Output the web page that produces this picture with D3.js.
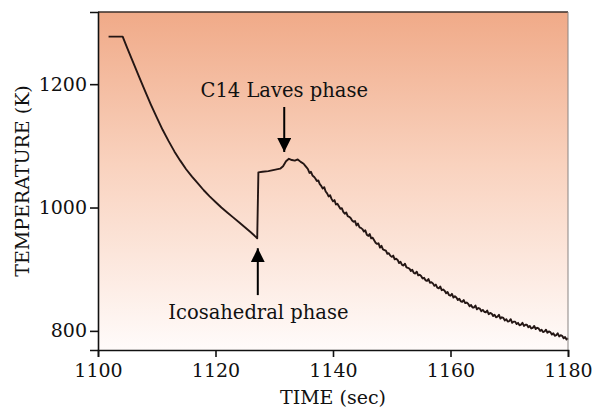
<!DOCTYPE html>
<html><head><meta charset="utf-8">
<script src="https://cdn.jsdelivr.net/npm/d3@7"></script>
<style>
html,body{margin:0;padding:0;background:#fff;}
svg text{font-family:"DejaVu Serif",serif;fill:#111;}
</style></head>
<body><svg id="chart" width="594" height="408"></svg>
<script>
// ---- data ----
const xTicks = [1100, 1120, 1140, 1160, 1180];
const yTicks = [800, 1000, 1200];
const xLabel = "TIME (sec)";
const yLabel = "TEMPERATURE (K)";

// cooling curve: time (s) / temperature (K)
const timeSmooth = [1101.8,1104.2,1105,1106,1107,1108,1109,1110,1111,1112,1113,1114,1115,1116,1117,1118,1119,1120,1121,1122,1123,1124,1125,1126,1126.9,1127.1,1127.3,1128,1129,1130,1131,1131.5,1132,1132.5,1133,1133.5,1134,1134.5];
const tempSmooth = [1277,1277,1258,1235,1212,1189,1167,1146,1126,1108,1091,1076,1062,1050,1039,1028,1018,1009,1000,992,984,976,968,960,952,950,1057,1058,1059,1061,1063,1067,1075,1079,1077,1076,1078,1074];
// noisy tail, 0.25 s steps from 1135 to 1180
const tailStart = 1135, tailStep = 0.25;
const tempTail = [
1071,1068,1065,1062, 1056,1058,1052,1050, 1047,1043,1044,1038, 1035,1031,1033,1026,
1023,1018,1020,1014, 1010,1012,1005,1006, 1002,998,999,993, 990,992,986,985,
983,979,977,978, 971,974,968,967, 965,961,963,956, 954,957,950,951,
947,943,941,942, 935,938,932,931, 930,925,926,922, 920,922,916,917,
915,910,912,907, 906,909,903,902, 901,897,899,894, 893,896,890,891,
889,885,886,882, 881,884,878,879, 877,873,875,870, 869,872,866,867,
865,861,863,858, 857,860,854,856, 854,850,852,848, 847,850,845,846,
844,840,842,838, 838,841,835,837, 836,832,834,831, 830,833,827,829,
828,824,826,822, 823,826,820,822, 821,817,819,815, 816,819,813,815,
815,811,813,809, 810,813,808,810, 810,806,808,804, 805,808,803,805,
804,800,802,798, 799,802,797,799, 798,794,796,792, 793,796,791,793,
792,788,790,786, 788];

// annotations (data coords)
const annoText = ["C14 Laves phase", "Icosahedral phase"];
const annoTextT = [1131.7, 1127.3];
const annoTextK = [1179, 819];
const arrowT = [1131.7, 1127.2];
const arrowFromK = [1163, 858];
const arrowToK = [1090, 934];

// ---- drawing ----
const svg = d3.select("#chart");
const L = 98, R = 568, T = 12, B = 350;
const x = d3.scaleLinear().domain([1100, 1180]).range([L, R]);
const y = d3.scaleLinear().domain([769, 1317]).range([B, T]);

const defs = svg.append("defs");
const g = defs.append("linearGradient").attr("id","bg").attr("x1",0).attr("y1",0).attr("x2",0).attr("y2",1);
g.append("stop").attr("offset","0%").attr("stop-color","#f0aa88");
g.append("stop").attr("offset","45%").attr("stop-color","#f9d2be");
g.append("stop").attr("offset","100%").attr("stop-color","#fffbfa");
const mk = defs.append("marker").attr("id","ah").attr("viewBox","0 0 10 10")
  .attr("refX",10).attr("refY",5).attr("markerWidth",14).attr("markerHeight",14)
  .attr("markerUnits","userSpaceOnUse").attr("orient","auto");
mk.append("path").attr("d","M0,0 L10,5 L0,10 Z").attr("fill","#000");

svg.append("rect").attr("x",L).attr("y",T).attr("width",R-L).attr("height",B-T).attr("fill","url(#bg)");

const pts = timeSmooth.map((t,i)=>[t,tempSmooth[i]]);
tempTail.forEach((v,i)=>pts.push([tailStart+i*tailStep, v]));
svg.append("path").datum(pts)
  .attr("d", d3.line().x(d=>x(d[0])).y(d=>y(d[1])))
  .attr("fill","none").attr("stroke","#241614").attr("stroke-width",1.9).attr("stroke-linejoin","round");

// frame
svg.append("line").attr("x1",L).attr("x2",R).attr("y1",T).attr("y2",T).attr("stroke","#3a2e2a").attr("stroke-width",1.5);
svg.append("line").attr("x1",R).attr("x2",R).attr("y1",T).attr("y2",B).attr("stroke","#8a8482").attr("stroke-width",1);

// axes
const ax = svg.append("g").attr("transform",`translate(0,${B})`)
  .call(d3.axisBottom(x).tickValues(xTicks).tickSize(7).tickPadding(7).tickFormat(d3.format("d")));
const ay = svg.append("g").attr("transform",`translate(${L},0)`)
  .call(d3.axisLeft(y).tickValues(yTicks).tickSize(8).tickPadding(3).tickFormat(d3.format("d")));
[ax, ay].forEach(a=>{
  a.selectAll("path").attr("stroke","#111").attr("stroke-width",1.6);
  a.selectAll("line").attr("stroke","#111").attr("stroke-width",1.6);
  a.selectAll("text").style("font-size","19px").attr("fill","#111");
});

svg.append("text").attr("x",333).attr("y",404).attr("text-anchor","middle").style("font-size","19px").text(xLabel);
svg.append("text").attr("transform",`translate(29,${181}) rotate(-90)`).attr("text-anchor","middle").style("font-size","19px").text(yLabel);

annoText.forEach((s,i)=>{
  svg.append("text").attr("x",x(annoTextT[i])).attr("y",y(annoTextK[i])).attr("text-anchor","middle").style("font-size","19.5px").text(s);
  svg.append("line").attr("x1",x(arrowT[i])).attr("x2",x(arrowT[i])).attr("y1",y(arrowFromK[i])).attr("y2",y(arrowToK[i]))
    .attr("stroke","#000").attr("stroke-width",2).attr("marker-end","url(#ah)");
});
</script></body></html>
